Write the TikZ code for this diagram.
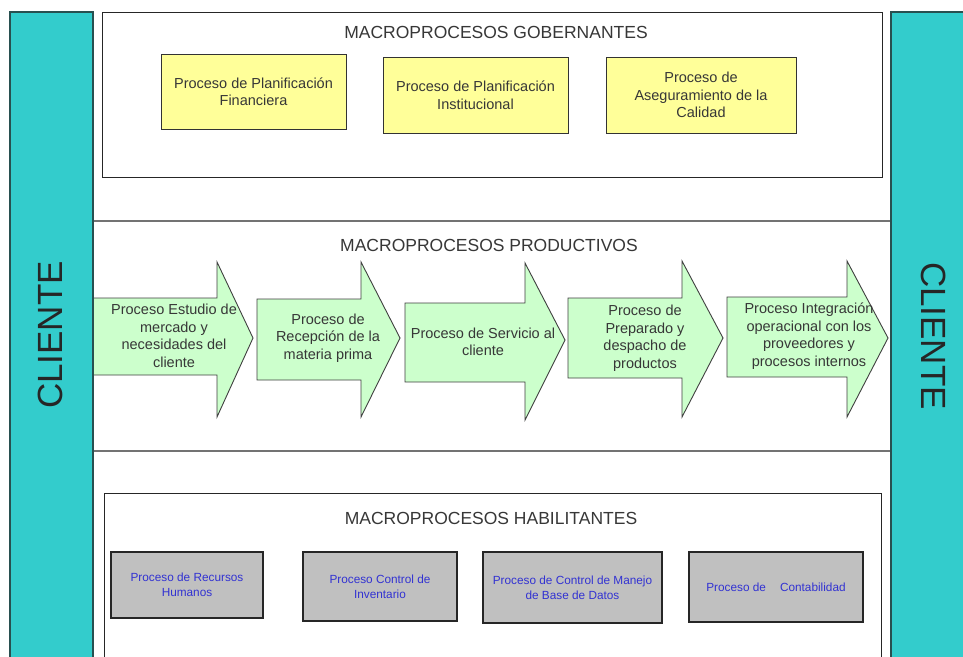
\documentclass[tikz,border=0pt]{standalone}
\usepackage{fontspec}
\setmainfont{Liberation Sans}
\definecolor{barcyan}{RGB}{51,204,204}
\definecolor{bardark}{RGB}{40,80,80}
\definecolor{govyellow}{RGB}{255,255,153}
\definecolor{prodgreen}{RGB}{204,255,204}
\definecolor{habgray}{RGB}{192,192,192}
\definecolor{txtgray}{RGB}{55,55,55}
\definecolor{habblue}{RGB}{50,50,210}
\begin{document}
\begin{tikzpicture}[x=1pt,y=-1pt,
  every node/.style={inner sep=0pt,text=txtgray},
  bar/.style={fill=barcyan,draw=bardark,line width=1.4pt},
  frame/.style={draw=black!85,line width=1pt},
  prodframe/.style={draw=black!55,line width=1.6pt},
  title/.style={font=\fontsize{17.5}{20}\selectfont},
  clientlabel/.style={font=\fontsize{35}{35}\selectfont,text=black!85},
  govbox/.style={draw=black!80,fill=govyellow,line width=1pt,align=center,
    font=\fontsize{14.5}{17.5}\selectfont},
  habbox/.style={draw=black!85,fill=habgray,line width=1.2pt,align=center,
    text=habblue,font=\fontsize{11.8}{15}\selectfont},
  arrowshape/.style={draw=black!75,fill=prodgreen,line width=0.9pt,line join=miter},
  arrowtext/.style={align=center,font=\fontsize{14.5}{17.5}\selectfont}]
\useasboundingbox (0,0) rectangle (963,656);
\clip (0,0) rectangle (963,656);
\fill[white] (0,0) rectangle (963,656);

% governing processes
\draw[frame] (102,12) rectangle (882,177);
\node[title] (tgov) at (496,32) {MACROPROCESOS GOBERNANTES};
\node[govbox,minimum width=185pt,minimum height=75pt] (g1) at (253.5,91.5)
  {Proceso de Planificación\\Financiera};
\node[govbox,minimum width=185pt,minimum height=76pt] (g2) at (475.5,95)
  {Proceso de Planificación\\Institucional};
\node[govbox,minimum width=190pt,minimum height=76pt] (g3) at (701,95)
  {Proceso de\\Aseguramiento de la\\Calidad};

% productive processes
\draw[prodframe] (93,221) rectangle (891,451);
\node[title] (tprod) at (489,245) {MACROPROCESOS PRODUCTIVOS};

\draw[arrowshape] (88,298) -- (217,298) -- (217,262) -- (253,338) -- (217,417)
  -- (217,375) -- (88,375) -- cycle;
\draw[arrowshape] (257,299) -- (361,299) -- (361,262) -- (400,338) -- (361,417)
  -- (361,380) -- (257,380) -- cycle;
\draw[arrowshape] (405,303) -- (525,303) -- (525,263) -- (565,340) -- (525,420)
  -- (525,382) -- (405,382) -- cycle;
\draw[arrowshape] (568,298) -- (682,298) -- (682,261) -- (723,338) -- (682,417)
  -- (682,378) -- (568,378) -- cycle;
\draw[arrowshape] (727,297) -- (847,297) -- (847,261) -- (888,338) -- (847,417)
  -- (847,377) -- (727,377) -- cycle;

\node[arrowtext] (p1) at (174,336)
  {Proceso Estudio de\\mercado y\\necesidades del\\cliente};
\node[arrowtext] (p2) at (328,338)
  {Proceso de\\Recepción de la\\materia prima};
\node[arrowtext] (p3) at (483,342)
  {Proceso de Servicio al\\cliente};
\node[arrowtext] (p4) at (645,338)
  {Proceso de\\Preparado y\\despacho de\\productos};
\node[arrowtext] (p5) at (809,336)
  {Proceso Integración\\operacional con los\\proveedores y\\procesos internos};

% enabling processes
\draw[frame] (104,493) rectangle (881,670);
\node[title] (thab) at (491,518) {MACROPROCESOS HABILITANTES};
\node[habbox,minimum width=152pt,minimum height=66pt] (h1) at (187,585)
  {Proceso de Recursos\\Humanos};
\node[habbox,minimum width=154pt,minimum height=69pt] (h2) at (380,586.5)
  {Proceso Control de\\Inventario};
\node[habbox,minimum width=179pt,minimum height=71pt] (h3) at (572.5,587.5)
  {Proceso de Control de Manejo\\de Base de Datos};
\node[habbox,minimum width=174pt,minimum height=70pt] (h4) at (776,587)
  {Proceso de\hspace{14pt}Contabilidad};

% client bars
\draw[bar] (10,12) rectangle (93,670);
\draw[bar] (891,12) rectangle (975,670);
\node[clientlabel,rotate=90] (cl) at (50,335) {CLIENTE};
\node[clientlabel,rotate=-90] (cr) at (934,336) {CLIENTE};
\end{tikzpicture}
\end{document}
